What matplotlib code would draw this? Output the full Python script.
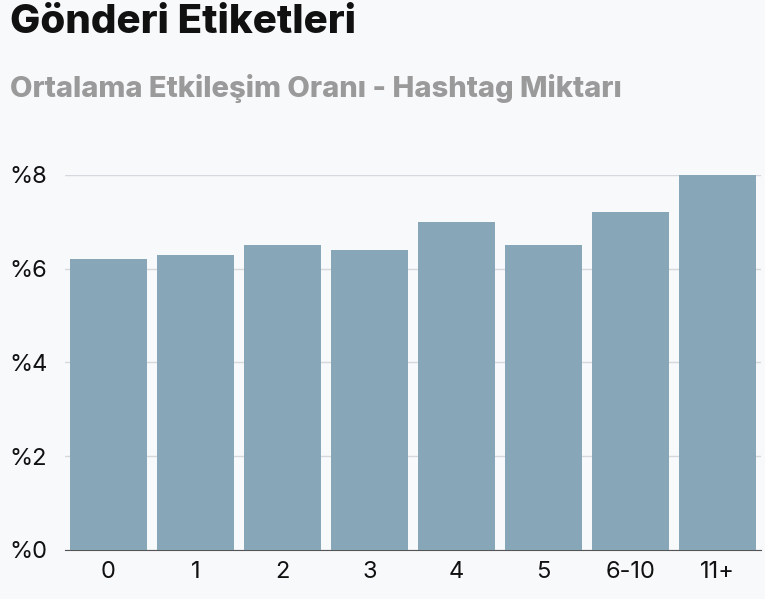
import matplotlib
matplotlib.use("Agg")
import matplotlib.pyplot as plt

categories = ["0", "1", "2", "3", "4", "5", "6-10", "11+"]
values = [6.2, 6.3, 6.5, 6.4, 7.0, 6.5, 7.2, 8.0]
yticks = [0, 2, 4, 6, 8]
ytick_labels = ["%0", "%2", "%4", "%6", "%8"]

bg = "#f8f9fb"
fig = plt.figure(figsize=(7.65, 5.99), dpi=100, facecolor=bg)
ax = fig.add_axes([0.085, 0.082, 0.91, 0.626], facecolor=bg)
x = range(len(categories))
ax.bar(x, values, width=0.89, color="#87a6b7", zorder=3)
ax.set_xlim(-0.5, len(categories) - 0.5)
ax.set_ylim(0, 8)
ax.set_yticks(yticks)
ax.set_yticklabels(ytick_labels, fontsize=17, fontfamily="Inter", color="#111111")
ax.set_xticks(list(x))
ax.set_xticklabels(categories, fontsize=17, fontfamily="Inter", color="#111111")
ax.grid(axis="y", color="#d5d8dc", linewidth=1, zorder=0)
for s in ["top", "right", "left"]:
    ax.spines[s].set_visible(False)
ax.spines["bottom"].set_color("#555555")
ax.tick_params(axis="both", length=0)
ax.tick_params(axis="y", pad=40)
for lab in ax.get_yticklabels():
    lab.set_horizontalalignment("left")
ax.tick_params(axis="x", pad=8)

fig.text(0.013, 0.962, "Gönderi Etiketleri", fontsize=29, fontweight="heavy",
         fontfamily="Inter", color="#111111", va="center")
fig.text(0.013, 0.853, "Ortalama Etkileşim Oranı - Hashtag Miktarı", fontsize=21,
         fontweight="heavy", fontfamily="Inter", color="#9a9a9a", va="center")
fig.savefig("out.png", dpi=100, facecolor=bg)
